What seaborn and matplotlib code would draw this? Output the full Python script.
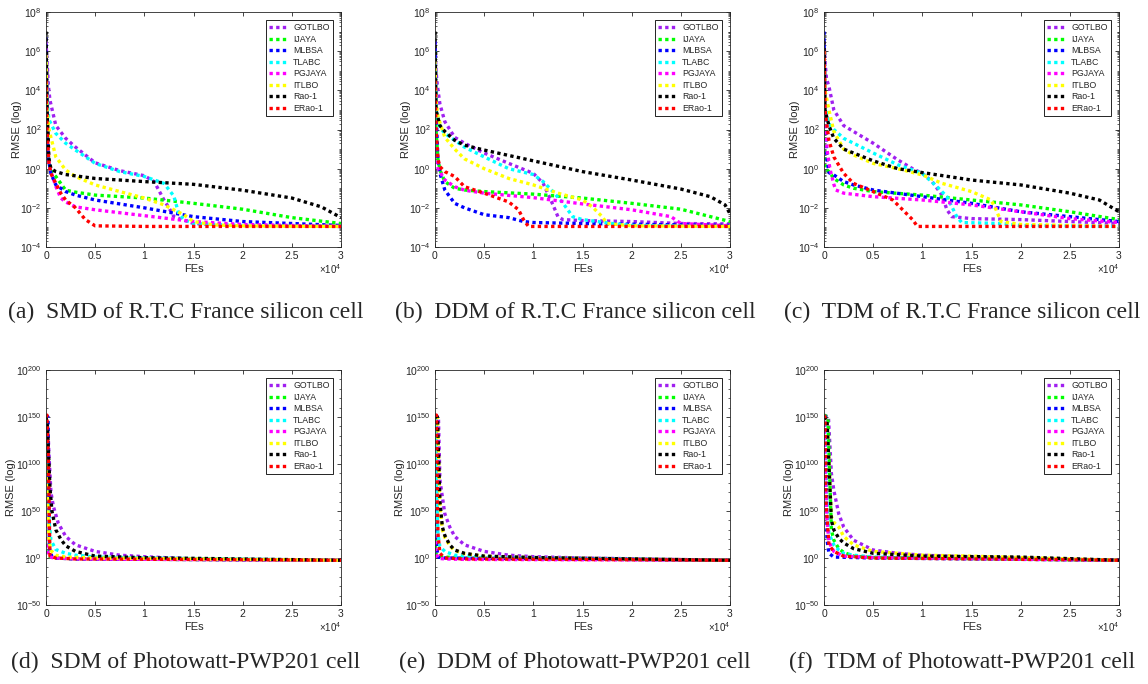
import numpy as np
import pandas as pd
import matplotlib
matplotlib.use("Agg")
import matplotlib.pyplot as plt
import seaborn as sns
from matplotlib.lines import Line2D
from matplotlib.ticker import FixedLocator, FuncFormatter, NullFormatter, LogFormatterSciNotation

# ---------------- data (FEs, log10 RMSE) ----------------
ALGORITHMS = ["GOTLBO", "IJAYA", "MLBSA", "TLABC", "PGJAYA", "ITLBO", "Rao-1", "ERao-1"]
COLORS = ["#A020F0", "#00FF00", "#0000FF", "#00FFFF", "#FF00FF", "#FFFF00", "#000000", "#FF0000"]

CAPTIONS = [
    "(a)  SMD of R.T.C France silicon cell",
    "(b)  DDM of R.T.C France silicon cell",
    "(c)  TDM of R.T.C France silicon cell",
    "(d)  SDM of Photowatt-PWP201 cell",
    "(e)  DDM of Photowatt-PWP201 cell",
    "(f)  TDM of Photowatt-PWP201 cell",
]

X_TICKS = [0, 5000, 10000, 15000, 20000, 25000, 30000]
Y_EXP_TOP = [-4, -2, 0, 2, 4, 6, 8]
Y_EXP_BOTTOM = [-50, 0, 50, 100, 150, 200]

# panel (a): SMD, R.T.C France
curves_a = {
    "GOTLBO": ([0, 100, 250, 400, 1000, 2000, 3000, 5000, 7500, 10000, 11000, 12000, 12500, 13000, 15000, 20000, 30000],
               [6.5, 5.5, 4.2, 3.5, 2.2, 1.55, 1.1, 0.3, -0.1, -0.36, -0.66, -1.6, -2.0, -2.45, -2.8, -2.9, -2.95]),
    "IJAYA": ([0, 100, 300, 600, 1000, 2000, 3000, 5000, 10000, 15000, 20000, 25000, 30000],
              [5.0, 2.0, 0.3, -0.2, -0.4, -1.1, -1.2, -1.35, -1.5, -1.77, -2.07, -2.5, -2.8]),
    "MLBSA": ([0, 100, 250, 500, 1000, 2000, 3000, 5000, 10000, 15000, 20000, 25000, 30000],
              [6.7, 3.0, 0.5, -0.25, -0.83, -1.17, -1.35, -1.6, -2.0, -2.45, -2.7, -2.8, -2.9]),
    "TLABC": ([0, 100, 300, 500, 1000, 2000, 3000, 5000, 7500, 10000, 12000, 13000, 13500, 14000, 15000, 20000, 30000],
              [5.5, 3.5, 2.5, 2.3, 1.8, 1.3, 0.95, 0.27, -0.15, -0.4, -0.75, -1.4, -2.3, -2.6, -2.8, -2.9, -2.95]),
    "PGJAYA": ([0, 100, 300, 600, 1000, 1500, 2000, 3000, 5000, 10000, 15000, 20000, 30000],
               [4.5, 1.5, 0.2, -0.3, -0.9, -1.5, -1.7, -1.95, -2.1, -2.4, -2.7, -2.85, -2.95]),
    "ITLBO": ([0, 100, 300, 1000, 2000, 3000, 5000, 7500, 10000, 12000, 14000, 15000, 17000, 20000, 30000],
              [5.8, 3.0, 2.0, 0.6, -0.07, -0.4, -0.83, -1.17, -1.5, -1.85, -2.35, -2.7, -2.87, -2.92, -2.95]),
    "Rao-1": ([0, 100, 300, 500, 1000, 2000, 5000, 10000, 15000, 20000, 25000, 28000, 30000],
              [7.0, 3.0, 0.5, 0.0, -0.15, -0.3, -0.5, -0.66, -0.8, -1.1, -1.5, -1.95, -2.5]),
    "ERao-1": ([0, 100, 300, 500, 1000, 1500, 2000, 3000, 4000, 5000, 10000, 30000],
               [4.5, 2.0, 0.3, -0.25, -0.75, -1.25, -1.6, -2.0, -2.6, -2.92, -2.95, -2.95]),
}

# panel (b): DDM, R.T.C France
curves_b = {
    "GOTLBO": ([0, 100, 250, 500, 1000, 2000, 3000, 5000, 7500, 10000, 11000, 12000, 12500, 13000, 15000, 20000, 25000, 30000],
               [6.5, 5.0, 4.2, 3.3, 2.4, 1.6, 1.3, 0.8, 0.27, -0.24, -0.75, -1.85, -2.45, -2.6, -2.65, -2.7, -2.8, -2.82]),
    "IJAYA": ([0, 100, 300, 500, 1000, 2000, 3000, 5000, 10000, 15000, 20000, 25000, 30000],
              [6.0, 2.0, 0.5, -0.07, -0.66, -1.0, -1.09, -1.17, -1.3, -1.5, -1.77, -2.07, -2.7]),
    "MLBSA": ([0, 100, 300, 500, 1000, 2000, 3000, 5000, 7500, 9000, 10000, 15000, 30000],
              [6.5, 3.0, 0.45, -0.24, -1.09, -1.77, -2.0, -2.35, -2.5, -2.7, -2.75, -2.8, -2.9]),
    "TLABC": ([0, 100, 500, 1000, 2000, 3000, 5000, 7500, 10000, 11000, 12000, 13000, 14000, 15000, 18000, 20000, 30000],
              [6.0, 3.0, 2.1, 1.8, 1.45, 1.1, 0.6, 0.0, -0.3, -0.66, -1.17, -1.75, -2.45, -2.6, -2.8, -2.9, -2.95]),
    "PGJAYA": ([0, 100, 300, 1000, 2000, 3000, 5000, 10000, 15000, 20000, 24000, 25000, 30000],
               [4.5, 1.5, 0.0, -0.58, -0.92, -1.1, -1.25, -1.48, -1.8, -2.1, -2.45, -2.8, -2.92]),
    "ITLBO": ([0, 100, 300, 1000, 2000, 3000, 5000, 7500, 10000, 12500, 15000, 16000, 17000, 17500, 20000, 30000],
              [5.5, 3.5, 2.65, 1.6, 1.0, 0.5, 0.0, -0.5, -0.83, -1.25, -1.6, -1.95, -2.45, -2.8, -2.92, -2.95]),
    "Rao-1": ([0, 100, 500, 1000, 2000, 3000, 5000, 10000, 15000, 20000, 25000, 28000, 29500, 30000],
              [7.0, 3.0, 2.2, 1.9, 1.45, 1.2, 0.95, 0.4, -0.15, -0.58, -1.04, -1.43, -1.85, -2.3]),
    "ERao-1": ([0, 100, 300, 500, 1000, 2000, 3000, 5000, 7500, 8500, 9000, 9500, 30000],
               [4.5, 2.0, 0.5, 0.1, -0.15, -0.4, -0.92, -1.25, -1.7, -2.1, -2.6, -2.95, -2.95]),
}

# panel (c): TDM, R.T.C France
curves_c = {
    "GOTLBO": ([0, 100, 250, 500, 1000, 2000, 3000, 5000, 7500, 9000, 10000, 11000, 12000, 12500, 13000, 15000, 20000, 25000, 30000],
               [6.5, 5.5, 4.6, 4.2, 3.0, 2.2, 1.9, 1.3, 0.45, 0.0, -0.24, -0.66, -1.35, -2.1, -2.45, -2.55, -2.6, -2.7, -2.8]),
    "IJAYA": ([0, 50, 100, 500, 1000, 2000, 3000, 5000, 10000, 15000, 20000, 25000, 30000],
              [5.0, 2.0, 0.0, -0.15, -0.5, -0.83, -1.0, -1.17, -1.35, -1.6, -1.85, -2.2, -2.6]),
    "MLBSA": ([0, 100, 300, 500, 1000, 2000, 3000, 5000, 10000, 15000, 20000, 25000, 30000],
              [7.0, 3.0, 0.5, -0.2, -0.32, -0.66, -0.83, -1.09, -1.43, -1.77, -2.2, -2.45, -2.7]),
    "TLABC": ([0, 100, 500, 1000, 2000, 3000, 5000, 7500, 10000, 11500, 12500, 13500, 14000, 18000, 20000, 30000],
              [6.0, 3.5, 2.3, 2.0, 1.55, 1.3, 0.8, 0.2, -0.24, -0.92, -1.43, -2.45, -2.75, -2.8, -2.9, -2.95]),
    "PGJAYA": ([0, 100, 300, 600, 1000, 1200, 2000, 5000, 10000, 15000, 20000, 25000, 30000],
               [6.0, 3.0, 1.0, 0.0, -0.8, -1.09, -1.25, -1.43, -1.6, -1.85, -2.2, -2.55, -2.75]),
    "ITLBO": ([0, 100, 500, 1000, 2000, 3000, 5000, 7500, 10000, 12000, 15000, 17000, 17500, 18000, 20000, 30000],
              [6.0, 4.0, 3.0, 1.9, 1.0, 0.7, 0.27, 0.0, -0.32, -0.75, -1.17, -1.6, -2.1, -2.7, -2.85, -2.95]),
    "Rao-1": ([0, 100, 500, 1000, 2000, 3000, 5000, 7500, 10000, 15000, 20000, 25000, 28000, 30000],
              [6.5, 3.0, 2.2, 1.55, 1.0, 0.8, 0.4, 0.0, -0.2, -0.58, -0.83, -1.25, -1.6, -2.2]),
    "ERao-1": ([0, 100, 500, 1000, 2000, 3000, 5000, 7000, 8000, 9000, 9500, 30000],
               [6.0, 3.0, 1.45, 0.6, -0.24, -0.75, -1.17, -1.6, -2.1, -2.6, -2.95, -2.95]),
}

# panel (d): SDM, Photowatt-PWP201
curves_d = {
    "GOTLBO": ([0, 150, 300, 500, 750, 1250, 2000, 3000, 5000, 7500, 10000, 15000, 30000],
               [152, 150, 110, 70, 55, 37, 23, 14, 7, 3, 1.4, -1, -2.4]),
    "IJAYA": ([0, 100, 200, 400, 1000, 3000, 30000], [150, 60, 5, 1, 0, -1, -2.4]),
    "MLBSA": ([0, 200, 350, 600, 1000, 3000, 30000], [152, 150, 10, 1.5, 0, -1, -2.4]),
    "TLABC": ([0, 100, 300, 500, 1000, 2000, 3000, 5000, 10000, 30000], [150, 120, 40, 19, 9, 5, 3, 1, 0, -2.4]),
    "PGJAYA": ([0, 100, 300, 600, 1000, 3000, 30000], [50, 10, 2, 0.5, 0, -1, -2.4]),
    "ITLBO": ([0, 100, 300, 500, 1000, 2000, 5000, 30000], [150, 80, 19, 8, 3, 1, 0, -2.4]),
    "Rao-1": ([0, 150, 400, 600, 1000, 1500, 2000, 3000, 5000, 10000, 30000],
              [150, 140, 75, 50, 30, 20, 13, 7, 2, 0.3, -2.4]),
    "ERao-1": ([0, 100, 250, 400, 1000, 3000, 30000], [150, 152, 100, 2, 0, -1, -2.4]),
}

# panel (e): DDM, Photowatt-PWP201
curves_e = {
    "GOTLBO": ([0, 350, 500, 750, 1000, 1500, 2000, 3000, 5000, 7500, 10000, 15000, 30000],
               [152, 150, 83, 65, 47, 33, 23, 14, 7, 3, 1.4, 0, -2.4]),
    "IJAYA": ([0, 100, 200, 500, 1000, 3000, 30000], [20, 5, 2, 1.5, 1, 0, -2.4]),
    "MLBSA": ([0, 100, 200, 300, 1000, 30000], [150, 150, 10, 1, 0, -2.4]),
    "TLABC": ([0, 100, 300, 500, 1000, 2000, 5000, 10000, 30000], [150, 100, 25, 12, 7, 3, 1, 0, -2.4]),
    "PGJAYA": ([0, 100, 300, 500, 1000, 3000, 30000], [25, 5, 0, -0.5, -1, -1.5, -2.4]),
    "ITLBO": ([0, 250, 500, 750, 1000, 1500, 2000, 3000, 5000, 10000, 30000],
              [150, 148, 55, 30, 22, 13, 8, 4.5, 1.8, 0.4, -2.4]),
    "Rao-1": ([0, 250, 500, 750, 1000, 1500, 2000, 3000, 5000, 10000, 30000],
              [150, 150, 60, 33, 24, 14, 8.5, 5, 2, 0.5, -2.4]),
    "ERao-1": ([0, 150, 250, 300, 500, 1000, 3000, 30000], [152, 152, 60, 26, 5, 0, -1, -2.4]),
}

# panel (f): TDM, Photowatt-PWP201
curves_f = {
    "GOTLBO": ([0, 450, 750, 1000, 1500, 2000, 3000, 5000, 7500, 10000, 15000, 20000, 30000],
               [152, 150, 90, 72, 47, 33, 19, 8.5, 5, 3, 1, 0, -2.4]),
    "IJAYA": ([0, 400, 750, 1000, 1500, 2000, 3000, 5000, 30000], [152, 150, 30, 19, 10, 6, 2, 0.5, -2.4]),
    "MLBSA": ([0, 200, 300, 500, 1000, 5000, 30000], [150, 150, 20, 5, 1, 0, -2.4]),
    "TLABC": ([0, 100, 300, 500, 1000, 1500, 2000, 3000, 5000, 10000, 30000],
              [150, 140, 60, 26, 14, 8.5, 5, 3, 1, 0, -2.4]),
    "PGJAYA": ([0, 100, 300, 500, 1000, 2000, 5000, 30000], [150, 100, 40, 17, 7, 2, 0.5, -2.4]),
    "ITLBO": ([0, 300, 750, 1000, 1500, 2000, 3000, 5000, 10000, 15000, 30000],
              [150, 148, 44, 38, 33, 23, 14, 7, 3, 2, -2.4]),
    "Rao-1": ([0, 300, 750, 1000, 1500, 2000, 3000, 5000, 10000, 20000, 30000],
              [150, 148, 40, 30, 21, 16, 10, 5, 2, 1, -2.4]),
    "ERao-1": ([0, 100, 200, 500, 1000, 2000, 5000, 30000], [152, 150, 60, 14, 7, 2, 0, -2.4]),
}

PANELS = [curves_a, curves_b, curves_c, curves_d, curves_e, curves_f]

# ---------------- style ----------------
sns.set_style("ticks", rc={"axes.edgecolor": "#262626", "xtick.color": "#262626",
                           "ytick.color": "#262626", "axes.linewidth": 0.6})
plt.rcParams["font.family"] = ["Liberation Sans", "DejaVu Sans"]
plt.rcParams["mathtext.fontset"] = "custom"
plt.rcParams["mathtext.rm"] = "Liberation Sans"
plt.rcParams["mathtext.it"] = "Liberation Sans:italic"

DOT = (0, (1, 1))
LW = 2.4
palette = dict(zip(ALGORITHMS, COLORS))

fig = plt.figure(figsize=(11.48, 6.84), dpi=100)
W, H = 1148, 684
lefts = [46, 435, 824]
tops = [12, 370]
aw, ah = 295, 235

for idx, curves in enumerate(PANELS):
    row, col = divmod(idx, 3)
    ax = fig.add_axes([lefts[col] / W, 1 - (tops[row] + ah) / H, aw / W, ah / H])
    rows = []
    for name in ALGORITHMS:
        xs, es = curves[name]
        for x, e in zip(xs, es):
            rows.append({"FEs": x, "RMSE": 10.0 ** e, "Algorithm": name})
    df = pd.DataFrame(rows)
    sns.lineplot(data=df, x="FEs", y="RMSE", hue="Algorithm", hue_order=ALGORITHMS,
                 palette=palette, estimator=None, sort=False, legend=False,
                 linestyle=DOT, linewidth=LW, ax=ax)
    for ln in ax.get_lines():
        ln.set_dash_capstyle("butt")
    ax.set_yscale("log")
    exps = Y_EXP_TOP if row == 0 else Y_EXP_BOTTOM
    ax.set_ylim(10.0 ** exps[0], 10.0 ** exps[-1])
    ax.set_xlim(0, 30000)
    ax.yaxis.set_major_locator(FixedLocator([10.0 ** e for e in exps]))
    if row == 0:
        minor = [m * 10.0 ** d for d in range(exps[0], exps[-1]) for m in range(2, 10)]
        minor += [10.0 ** d for d in range(exps[0], exps[-1]) if d % 2]
    else:
        minor = [10.0 ** d for d in range(exps[0], exps[-1], 10) if d % 50]
    ax.yaxis.set_minor_locator(FixedLocator(minor))
    ax.yaxis.set_minor_formatter(NullFormatter())
    ax.yaxis.set_major_formatter(LogFormatterSciNotation())
    ax.xaxis.set_major_locator(FixedLocator(X_TICKS))
    ax.xaxis.set_major_formatter(FuncFormatter(lambda v, p: f"{v / 1e4:g}"))
    ax.tick_params(which="major", direction="in", length=3, width=0.6, top=True, right=True,
                   labelsize=7.5, pad=3)
    ax.tick_params(which="minor", direction="in", length=1.6, width=0.5, top=False, right=True,
                   left=True)
    for s in ax.spines.values():
        s.set_visible(True)
        s.set_linewidth(0.6)
    ax.set_xlabel("FEs", fontsize=8, color="#262626", labelpad=2)
    ax.set_ylabel("RMSE (log)", fontsize=8, color="#262626")
    ax.yaxis.set_label_coords(-0.083 if row == 0 else -0.103, 0.5)
    ax.text(1.0, -0.065, r"$\times10^{4}$", transform=ax.transAxes, ha="right", va="top",
            fontsize=7, color="#262626")
    handles = [Line2D([], [], color=palette[n], linestyle=DOT, linewidth=LW, dash_capstyle="butt")
               for n in ALGORITHMS]
    leg = ax.legend(handles, ALGORITHMS, loc="upper right", bbox_to_anchor=(0.973, 0.966),
                    borderaxespad=0, fontsize=6.3, frameon=True, fancybox=False,
                    edgecolor="#000000", framealpha=1, labelspacing=0.28,
                    handlelength=2.2, handletextpad=0.5, borderpad=0.4)
    leg.get_frame().set_linewidth(0.6)

caption_y = [1 - 312 / H, 1 - 662 / H]
caption_x = [186 / W, 575 / W, 962 / W]
for idx, cap in enumerate(CAPTIONS):
    row, col = divmod(idx, 3)
    fig.text(caption_x[col], caption_y[row], cap, ha="center", va="center",
             fontsize=17, family=["Liberation Serif", "DejaVu Serif"])

fig.savefig("out.png", dpi=100, facecolor="white")
